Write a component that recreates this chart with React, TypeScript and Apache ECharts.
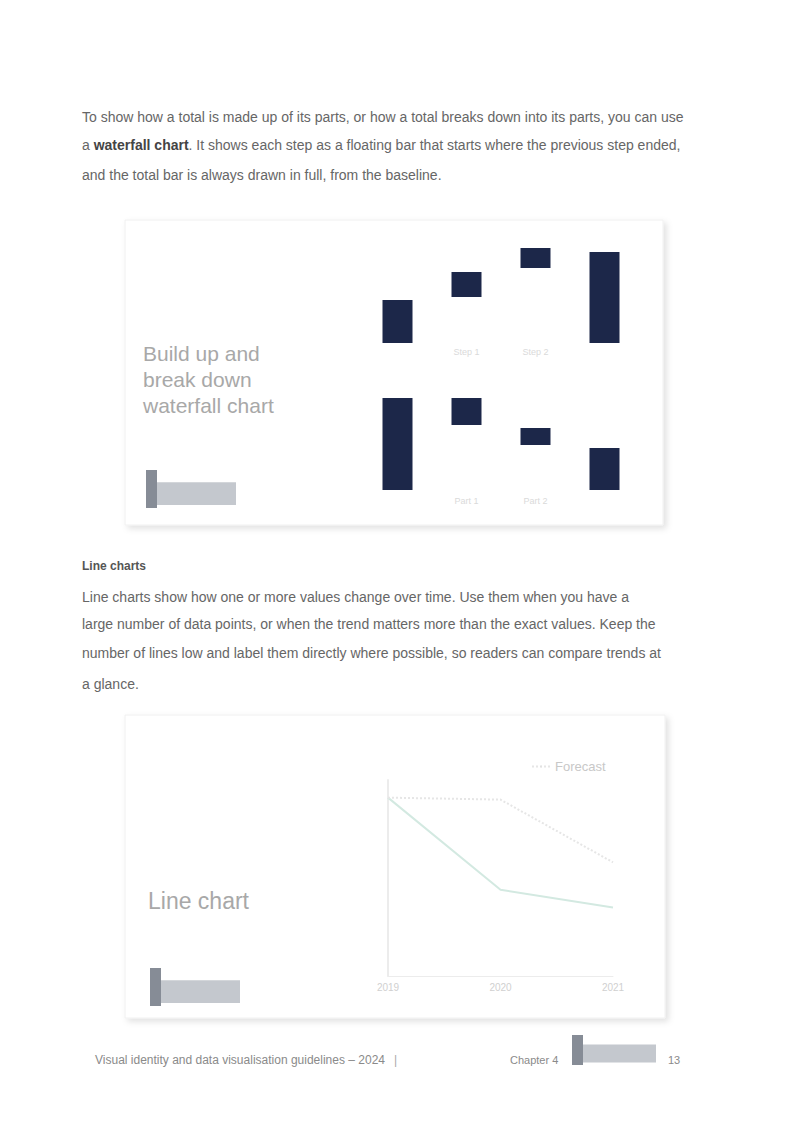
import React, { useEffect, useRef } from "react";
import * as echarts from "echarts";

// ---- data ----
const buildUpSteps = ["Start", "Step 1", "Step 2", "Total"];
const buildUpBase = [0, 46, 75, 0];
const buildUpValue = [43, 25, 20, 91];

const breakDownSteps = ["Total", "Part 1", "Part 2", "Rest"];
const breakDownBase = [0, 65, 45, 0];
const breakDownValue = [92, 27, 17, 42];

const lineYears = ["2019", "2020", "2021"];
const actualValues = [91, 44, 35];
const forecastValues = [91, 90, 58];

const para1 = [
  "To show how a total is made up of its parts, or how a total breaks down into its parts, you can use",
  "{n|a }{b|waterfall chart}{n|. It shows each step as a floating bar that starts where the previous step ended,}",
  "and the total bar is always drawn in full, from the baseline.",
];
const para2 = [
  "Line charts show how one or more values change over time. Use them when you have a",
  "large number of data points, or when the trend matters more than the exact values. Keep the",
  "number of lines low and label them directly where possible, so readers can compare trends at",
  "a glance.",
];

const NAVY = "#1c2749";
const FONT = "Liberation Sans, Arial, sans-serif";

function textEl(text: string, x: number, y: number, size: number, color: string, weight = "normal") {
  return {
    type: "text",
    x,
    y,
    silent: true,
    style: {
      text,
      fill: color,
      font: `${weight} ${size}px ${FONT}`,
      verticalAlign: "middle",
      align: "left",
    },
  };
}

function logo(x: number, y: number, w: number, h: number) {
  return {
    type: "group",
    children: [
      { type: "rect", shape: { x: x + 10, y: y + h * 0.32, width: w - 10, height: h * 0.6 }, style: { fill: "#c4c8ce" } },
      { type: "rect", shape: { x, y, width: 11, height: h }, style: { fill: "#868c96" } },
    ],
  };
}

function panel(x: number, y: number, w: number, h: number) {
  return {
    type: "rect",
    shape: { x, y, width: w, height: h },
    z: -10,
    style: {
      fill: "#ffffff",
      stroke: "#f0f0f0",
      lineWidth: 1,
      shadowBlur: 6,
      shadowOffsetX: 3,
      shadowOffsetY: 3,
      shadowColor: "rgba(0,0,0,0.12)",
    },
  };
}

export default function App() {
  const ref = useRef<HTMLDivElement>(null);
  useEffect(() => {
    if (!ref.current) return;
    const chart = echarts.init(ref.current, undefined, { renderer: "svg" });
    const textColor = "#666";
    const graphics: any[] = [];
    // paragraph 1
    const p1y = [117, 145, 175];
    para1.forEach((t, i) => {
      if (t.startsWith("{")) {
        graphics.push({
          type: "text",
          x: 82,
          y: p1y[i],
          silent: true,
          style: {
            text: t,
            verticalAlign: "middle",
            rich: {
              n: { fill: textColor, font: `normal 14px ${FONT}` },
              b: { fill: "#444", font: `bold 14px ${FONT}` },
            },
          },
        });
      } else {
        graphics.push(textEl(t, 82, p1y[i], 14, textColor));
      }
    });
    // heading + paragraph 2
    graphics.push(textEl("Line charts", 82, 566, 12, "#555", "bold"));
    const p2y = [597, 624, 653, 684];
    para2.forEach((t, i) => graphics.push(textEl(t, 82, p2y[i], 14, textColor)));

    // panels
    graphics.push(panel(125, 220, 538, 305));
    graphics.push(panel(125, 715, 540, 303));

    // waterfall panel texts
    graphics.push(textEl("Build up and", 143, 353, 21, "#a8a8a8"));
    graphics.push(textEl("break down", 143, 379, 21, "#a8a8a8"));
    graphics.push(textEl("waterfall chart", 143, 405, 21, "#a8a8a8"));
    graphics.push(logo(146, 470, 90, 38));

    // line panel texts
    graphics.push(textEl("Line chart", 148, 901, 23, "#a8a8a8"));
    graphics.push(logo(150, 968, 90, 38));

    // footer
    graphics.push(textEl("Visual identity and data visualisation guidelines – 2024", 95, 1060, 12, "#8a8a8a"));
    graphics.push(textEl("|", 394, 1060, 12, "#aaa"));
    graphics.push(textEl("Chapter 4", 510, 1060, 11, "#8a8a8a"));
    graphics.push(logo(572, 1035, 84, 30));
    graphics.push(textEl("13", 668, 1060, 11, "#8a8a8a"));

    const transparent = { color: "rgba(0,0,0,0)" };

    chart.setOption({
      animation: false,
      backgroundColor: "#ffffff",
      graphic: { elements: graphics },
      legend: {
        left: 526,
        top: 755,
        data: ["Forecast"],
        itemWidth: 18,
        itemHeight: 2,
        itemGap: 4,
        textStyle: { color: "#c8c8c8", fontSize: 13, fontFamily: FONT },
      },
      grid: [
        { left: 363, top: 243, width: 276, height: 100 },
        { left: 363, top: 390, width: 276, height: 100 },
        { left: 388, top: 780, width: 225, height: 196 },
      ],
      xAxis: [
        {
          gridIndex: 0,
          type: "category",
          data: buildUpSteps,
          axisLine: { show: false },
          axisTick: { show: false },
          axisLabel: { interval: (i: number) => i === 1 || i === 2, color: "#dadada", fontSize: 9, margin: 4, fontFamily: FONT },
        },
        {
          gridIndex: 1,
          type: "category",
          data: breakDownSteps,
          axisLine: { show: false },
          axisTick: { show: false },
          axisLabel: { interval: (i: number) => i === 1 || i === 2, color: "#dadada", fontSize: 9, margin: 6, fontFamily: FONT },
        },
        {
          gridIndex: 2,
          type: "category",
          data: lineYears,
          boundaryGap: false,
          axisLine: { lineStyle: { color: "#ececec" } },
          axisTick: { show: false },
          axisLabel: { color: "#d0d0d0", fontSize: 10, margin: 6, fontFamily: FONT },
        },
      ],
      yAxis: [
        { gridIndex: 0, type: "value", min: 0, max: 100, show: false },
        { gridIndex: 1, type: "value", min: 0, max: 100, show: false },
        {
          gridIndex: 2,
          type: "value",
          min: 0,
          max: 100,
          axisLine: { show: true, lineStyle: { color: "#ececec", width: 2 } },
          axisLabel: { show: false },
          axisTick: { show: false },
          splitLine: { show: false },
        },
      ],
      series: [
        { type: "bar", xAxisIndex: 0, yAxisIndex: 0, stack: "up", data: buildUpBase, itemStyle: transparent, barWidth: 30, silent: true },
        { type: "bar", xAxisIndex: 0, yAxisIndex: 0, stack: "up", data: buildUpValue, itemStyle: { color: NAVY }, barWidth: 30 },
        { type: "bar", xAxisIndex: 1, yAxisIndex: 1, stack: "down", data: breakDownBase, itemStyle: transparent, barWidth: 30, silent: true },
        { type: "bar", xAxisIndex: 1, yAxisIndex: 1, stack: "down", data: breakDownValue, itemStyle: { color: NAVY }, barWidth: 30 },
        {
          name: "Actual",
          type: "line",
          xAxisIndex: 2,
          yAxisIndex: 2,
          data: actualValues,
          symbol: "none",
          lineStyle: { color: "#d3e9e1", width: 2 },
          itemStyle: { color: "#d3e9e1" },
        },
        {
          name: "Forecast",
          type: "line",
          xAxisIndex: 2,
          yAxisIndex: 2,
          data: forecastValues,
          symbol: "none",
          lineStyle: { color: "#e6e6e6", width: 2, type: "dotted" },
          itemStyle: { color: "#e0e0e0" },
        },
      ],
    });
    return () => chart.dispose();
  }, []);
  return <div ref={ref} style={{ position: "absolute", left: 0, top: 0, width: 793, height: 1123 }} />;
}
